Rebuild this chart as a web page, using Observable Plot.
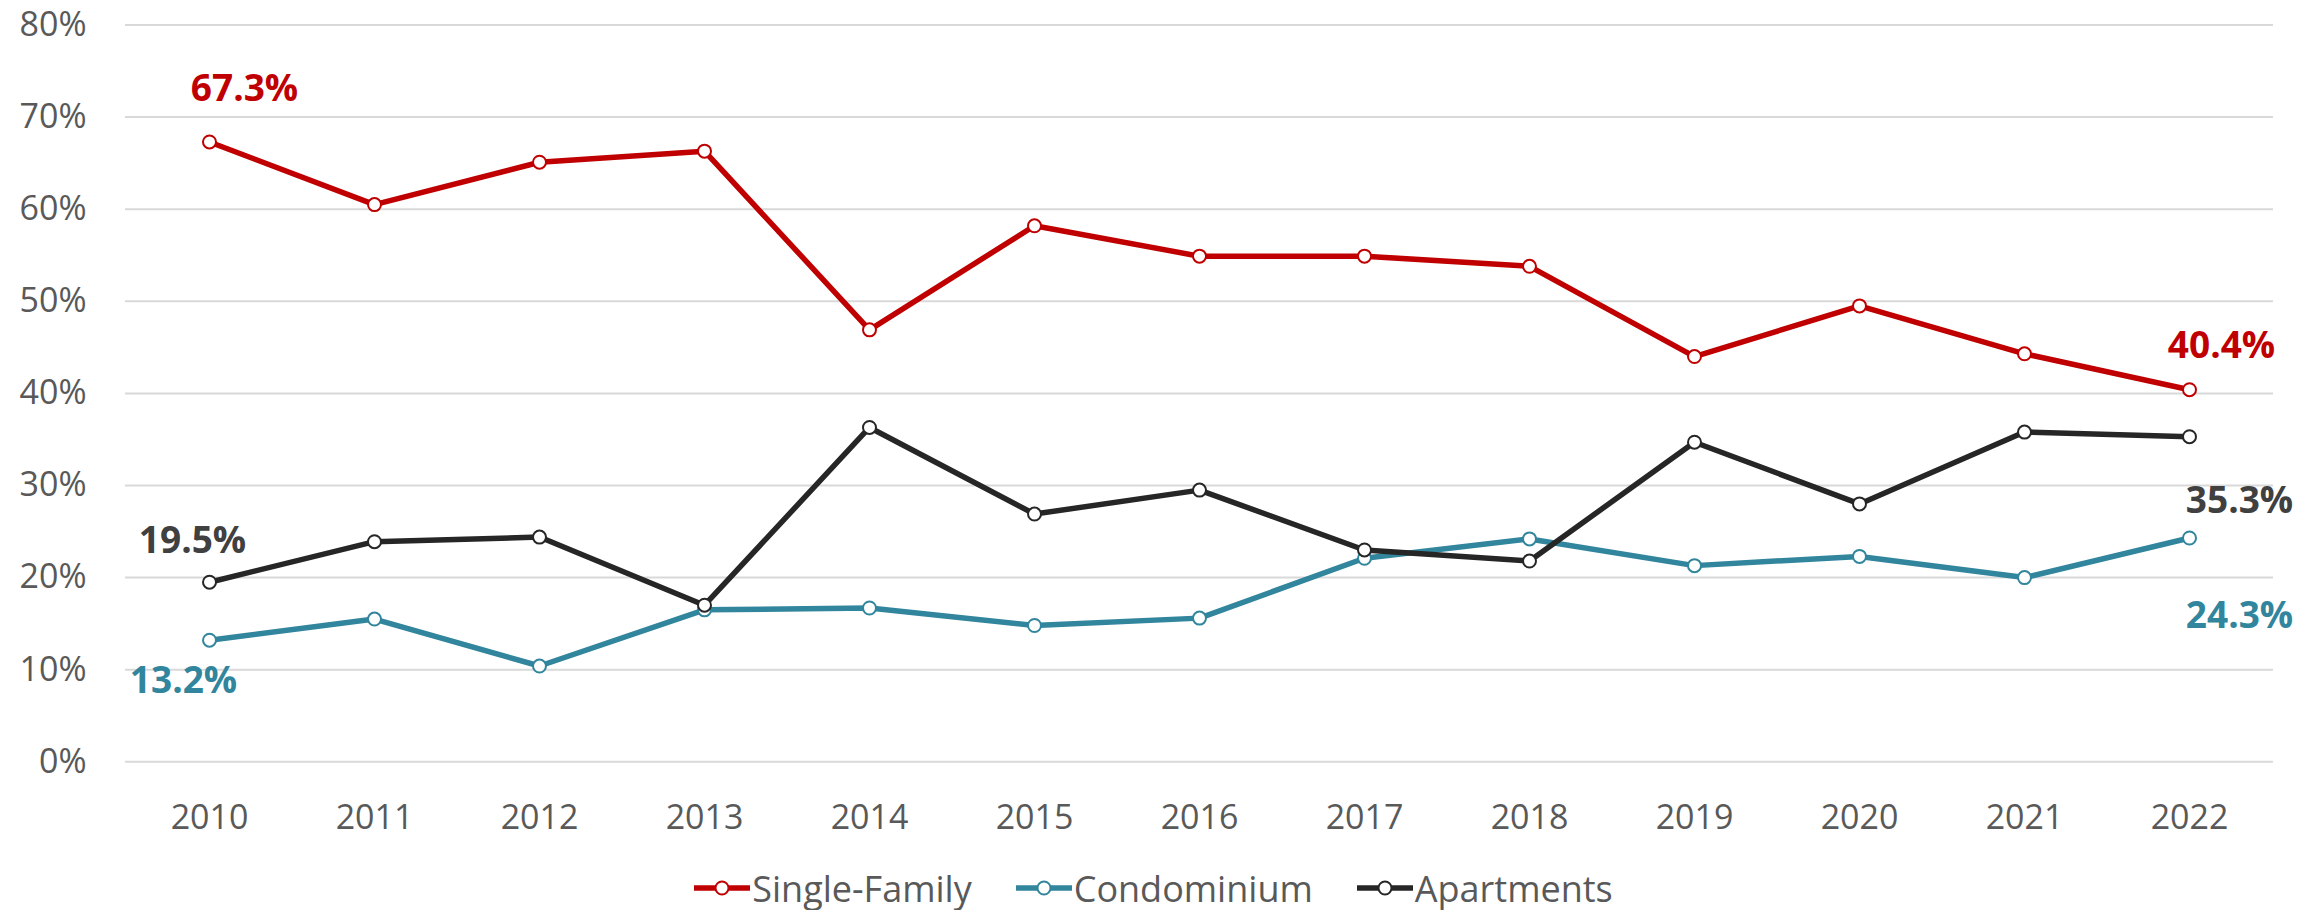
<!DOCTYPE html>
<html>
<head>
<meta charset="utf-8">
<script src="https://cdn.jsdelivr.net/npm/d3@7"></script>
<script src="https://cdn.jsdelivr.net/npm/@observablehq/plot@0.6"></script>
<style>
  html, body { margin: 0; padding: 0; background: #fff; }
  body { width: 2321px; height: 910px; overflow: hidden; font-family: "Open Sans", sans-serif; }
  #legend { display: flex; justify-content: center; align-items: center; gap: 44px; height: 50px; margin-top: 8px; padding-right: 14px; color: #595959; font-size: 36px; }
  .item { display: flex; align-items: center; gap: 2px; }
</style>
</head>
<body>
<div id="chart"></div>
<div id="legend"></div>
<script>
const years = [2010, 2011, 2012, 2013, 2014, 2015, 2016, 2017, 2018, 2019, 2020, 2021, 2022];
const singleFamily = [67.3, 60.5, 65.1, 66.3, 46.9, 58.2, 54.9, 54.9, 53.8, 44.0, 49.5, 44.3, 40.4];
const condominium = [13.2, 15.5, 10.4, 16.5, 16.7, 14.8, 15.6, 22.1, 24.2, 21.3, 22.3, 20.0, 24.3];
const apartments = [19.5, 23.9, 24.4, 17.0, 36.3, 26.9, 29.5, 23.0, 21.8, 34.7, 28.0, 35.8, 35.3];
const seriesNames = ["Single-Family", "Condominium", "Apartments"];
const yTicks = [0, 10, 20, 30, 40, 50, 60, 70, 80];

const colors = {"Single-Family": "#C00000", "Condominium": "#31859C", "Apartments": "#262626"};
const labelColors = {"Single-Family": "#C00000", "Condominium": "#31859C", "Apartments": "#404040"};

const seriesValues = {"Single-Family": singleFamily, "Condominium": condominium, "Apartments": apartments};
const rows = seriesNames.flatMap(s => years.map((yr, i) => ({series: s, year: yr, value: seriesValues[s][i]})));

function label(series, idx, dx, dy) {
  const d = rows.filter(r => r.series === series && r.year === years[idx]);
  return Plot.text(d, {
    x: "year", y: "value", text: r => r.value.toFixed(1) + "%",
    dx, dy, fill: labelColors[series], fontWeight: "bold", fontSize: 37, textAnchor: "middle"
  });
}

const last = years.length - 1;
const chart = Plot.plot({
  width: 2321,
  height: 855,
  marginTop: 24.5,
  marginBottom: 93.7,
  marginLeft: 125,
  marginRight: 48,
  style: {fontFamily: "Open Sans", background: "#fff"},
  x: {type: "point", domain: years, padding: 0.5},
  y: {domain: [0, 80]},
  marks: [
    Plot.ruleY(yTicks, {stroke: "#d9d9d9", strokeWidth: 2}),
    Plot.axisY({ticks: yTicks, tickSize: 0, tickPadding: 39, tickFormat: d => d + "%", fontSize: 34, color: "#595959", label: null}),
    Plot.axisX({tickSize: 0, tickPadding: 43, tickFormat: d => String(d), fontSize: 34, color: "#595959", label: null}),
    ...seriesNames.map(s => Plot.line(rows.filter(r => r.series === s), {x: "year", y: "value", stroke: colors[s], strokeWidth: 5.5, strokeLinejoin: "round"})),
    ...seriesNames.map(s => Plot.dot(rows.filter(r => r.series === s), {x: "year", y: "value", r: 6.5, fill: "#fff", stroke: colors[s], strokeWidth: 2})),
    label("Single-Family", 0, 35, -53),
    label("Condominium", 0, -26, 41),
    label("Apartments", 0, -17, -41),
    label("Single-Family", last, 32, -44),
    label("Apartments", last, 50, 64),
    label("Condominium", last, 50, 78)
  ]
});
document.getElementById("chart").appendChild(chart);

const legend = document.getElementById("legend");
for (const s of seriesNames) {
  const item = document.createElement("div");
  item.className = "item";
  item.innerHTML = `<svg width="56" height="20"><line x1="0" x2="56" y1="10" y2="10" stroke="${colors[s]}" stroke-width="5.5"/><circle cx="28" cy="10" r="6.5" fill="#fff" stroke="${colors[s]}" stroke-width="2"/></svg><span>${s}</span>`;
  legend.appendChild(item);
}
</script>
</body>
</html>
